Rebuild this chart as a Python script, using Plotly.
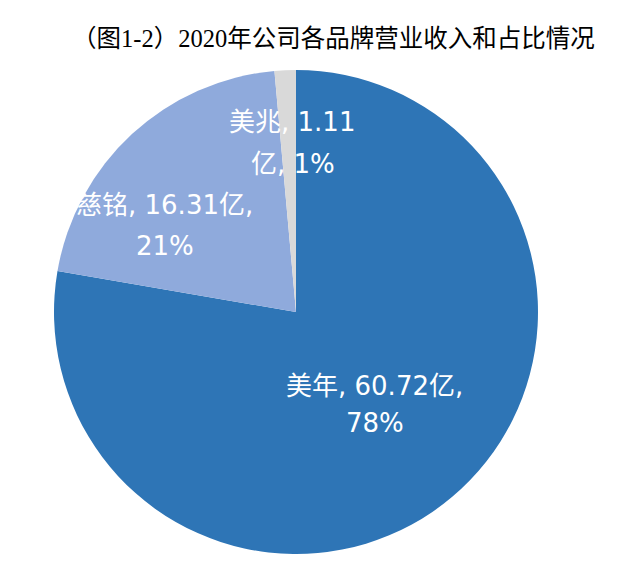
import plotly.graph_objects as go

# Data
brands = ["美年", "慈铭", "美兆"]
revenue = [60.72, 16.31, 1.11]  # 亿元
colors = ["#2E75B6", "#8FAADC", "#D9D9D9"]
title_text = "（图1-2）2020年公司各品牌营业收入和占比情况"

W, H = 640, 573
OFF = 8  # page body margin compensation
cx, cy, R = 296 - OFF, 312 - OFF, 242  # pie centre / radius in px (layout)

# label line anchor offsets (px, relative to pie centre) - layout only
label_offsets = [
    [(78, 74), (79, 111)],
    [(-132, -107), (-131, -66)],
    [(-4, -190), (-3, -148)],
]

total = sum(revenue)
pcts = [round(v / total * 100) for v in revenue]

fig = go.Figure(go.Pie(
    labels=brands,
    values=revenue,
    sort=False,
    direction="clockwise",
    rotation=0,
    marker=dict(colors=colors, line=dict(color="#FFFFFF", width=0)),
    textinfo="none",
    hoverinfo="label+value+percent",
    showlegend=False,
    domain=dict(x=[(cx - R) / W, (cx + R) / W],
                y=[(H - cy - R) / H, (H - cy + R) / H]),
))

label_lines = [
    [f"{brands[0]}, {revenue[0]:.2f}亿,", f"{pcts[0]}%"],
    [f"{brands[1]}, {revenue[1]:.2f}亿,", f"{pcts[1]}%"],
    [f"{brands[2]}, {revenue[2]:.2f}", f"亿, {pcts[2]}%"],
]

annotations = []
for lines, offs in zip(label_lines, label_offsets):
    for txt, (dx, dy) in zip(lines, offs):
        annotations.append(dict(
            x=(cx + dx) / W, y=(H - cy - dy) / H, xref="paper", yref="paper",
            text=txt, showarrow=False, xanchor="center", yanchor="middle", align="center",
            font=dict(family="DejaVu Sans, Noto Sans CJK SC", size=26, color="#FFFFFF"),
        ))

annotations.append(dict(
    x=(333 - OFF) / W, y=(H - 38 + OFF) / H, xref="paper", yref="paper",
    text=title_text, showarrow=False, xanchor="center", yanchor="middle",
    font=dict(family="Liberation Serif, Noto Sans CJK SC", size=24.5, color="#000000"),
))

fig.update_layout(
    width=W, height=H,
    margin=dict(l=0, r=0, t=0, b=0),
    paper_bgcolor="#FFFFFF",
    plot_bgcolor="#FFFFFF",
    annotations=annotations,
)

fig.write_html("out.html")
